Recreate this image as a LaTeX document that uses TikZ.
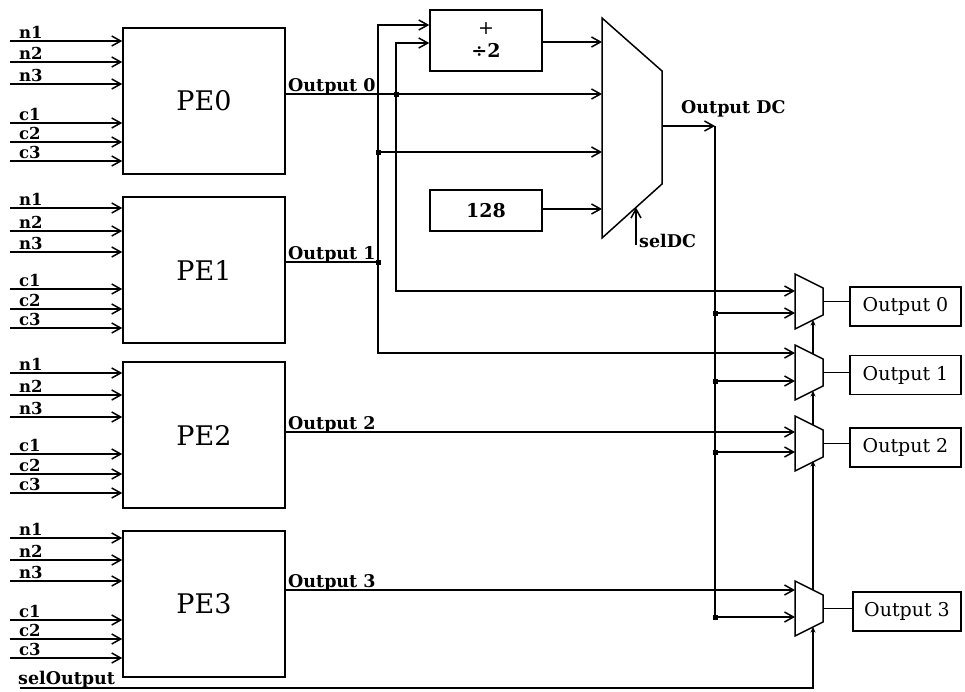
\documentclass[tikz,border=0pt]{standalone}
\usepackage{fontspec}
\setmainfont{DejaVu Serif}
\usetikzlibrary{arrows.meta,calc}
\begin{document}
\begin{tikzpicture}[x=1pt,y=-1pt,
  wire/.style={line width=1.3pt},
  arr/.style={wire,-{Straight Barb[length=9pt,width=10pt,line width=1.5pt]}},
  sarr/.style={wire,-{Stealth[length=5.5pt,width=5pt]}},
  box/.style={draw,line width=1.5pt,inner sep=0pt},
  pebox/.style={box,minimum width=162pt,minimum height=146pt,font=\fontsize{27}{30}\selectfont},
  obox/.style={box,minimum width=111pt,minimum height=39pt,font=\fontsize{19}{21}\selectfont},
  pin/.style={font=\bfseries\fontsize{16.5}{18}\selectfont,inner sep=0pt,anchor=base west},
  olab/.style={font=\bfseries\fontsize{17.5}{19}\selectfont,inner sep=0pt,anchor=base west},
  jdot/.style={fill,rectangle,inner sep=0pt,minimum size=5pt},
  muxline/.style={line width=1.5pt,line join=miter}
]
\useasboundingbox (0,0) rectangle (965,691);

% PE blocks with inputs
\foreach \i/\cy/\oy/\a/\b/\c/\d/\e/\f in {0/101/94/41/62/84/123/142/161, 1/270/262/208/231/252/289/309/328, 2/435/432/373/395/417/454/474/493, 3/604/590/538/560/581/620/639/658} {
  \node[pebox] (pe\i) at (204,\cy) {PE\i};
  \foreach \y/\nm in {\a/n1,\b/n2,\c/n3,\d/c1,\e/c2,\f/c3} {
    \coordinate (in\i\nm) at (10,\y);
    \draw[arr] (in\i\nm) -- (pe\i.west |- in\i\nm);
    \node[pin] (lab\i\nm) at (19,\y-3) {\nm};
  }
  \coordinate (o\i) at (pe\i.east |- 0,\oy);
  \node[olab] (ol\i) at (288,\oy-3) {Output \i};
}

% adder / divider and constant
\node[box,minimum width=112pt,minimum height=61pt,align=center,font=\fontsize{19}{23}\selectfont] (add) at (486,40.5)
  {+\\{\bfseries ÷2}};
\node[box,minimum width=112pt,minimum height=41pt,font=\bfseries\fontsize{19}{20}\selectfont] (c128) at (486,210.5) {128};

% DC multiplexer
\draw[muxline] (602,18) coordinate (mdctl) -- (662,71) -- (662,184) -- (602,238) -- cycle;
\coordinate (mdcin0) at (602,42);
\coordinate (mdcin1) at (602,94);
\coordinate (mdcin2) at (602,152);
\coordinate (mdcin3) at (602,209);
\coordinate (mdcout) at (662,126);
\coordinate (mdcsel) at (636,207.5);

% small output multiplexers
\foreach \i/\t/\ia/\ib in {0/274/291/313, 1/345/353/381, 2/416/432/452, 3/581/590/617} {
  \draw[muxline] (795,\t) -- (823,\t+14) -- (823,\t+41) -- (795,\t+55) -- cycle;
  \coordinate (m\i a) at (795,\ia);
  \coordinate (m\i b) at (795,\ib);
  \coordinate (m\i out) at (823,\t+27.5);
}

% output boxes
\node[obox] (ob0) at (905.5,306.5) {Output 0};
\node[obox] (ob1) at (905.5,375) {Output 1};
\node[obox] (ob2) at (905.5,447.5) {Output 2};
\node[obox,minimum width=108pt] (ob3) at (907,611.5) {Output 3};
\foreach \i in {0,1,2,3} {
  \draw[wire] (m\i out) -- (ob\i.west |- m\i out);
}

% junctions
\node[jdot] (j0) at (396,94) {};
\node[jdot] (j1) at (378,262) {};
\node[jdot] (j1b) at (378,152) {};

\draw[wire] (o0) -- (j0.center);
\draw[arr] (j0.center) -- (mdcin1);
\draw[arr] (j0.center) -- (396,43) -- (add.west |- 0,43);
\draw[arr] (j0.center) -- (396,291) -- (m0a);

\draw[wire] (o1) -- (j1.center);
\draw[arr] (j1.center) -- (378,25) -- (add.west |- 0,25);
\draw[arr] (j1b.center) -- (mdcin2);
\draw[arr] (j1.center) -- (378,353) -- (m1a);

\draw[arr] (o2) -- (m2a);
\draw[arr] (o3) -- (m3a);

\draw[arr] (add.east |- mdcin0) -- (mdcin0);
\draw[arr] (c128.east |- mdcin3) -- (mdcin3);

% Output DC distribution
\coordinate (dctop) at (715,126);
\draw[arr] (mdcout) -- (dctop);
\node[olab] (dclab) at (681,113) {Output DC};
\foreach \i/\y in {0/313,1/381,2/452,3/617} {
  \node[jdot] (d\i) at (715,\y) {};
  \draw[arr] (d\i.center) -- (m\i b);
}
\draw[wire] (dctop) -- (d3.center);

% selDC
\coordinate (seldc) at (636,245);
\draw[arr] (seldc) -- (mdcsel);
\node[olab] (seldclab) at (639,247) {selDC};

% selOutput chain
\coordinate (sel) at (20,688);
\node[olab] (sellab) at (18,684) {selOutput};
\draw[sarr] (sel) -- (813,688) -- (813,627);
\draw[sarr] (813,590) -- (813,461);
\draw[sarr] (813,425) -- (813,391);
\draw[sarr] (813,354) -- (813,320);
\end{tikzpicture}
\end{document}
